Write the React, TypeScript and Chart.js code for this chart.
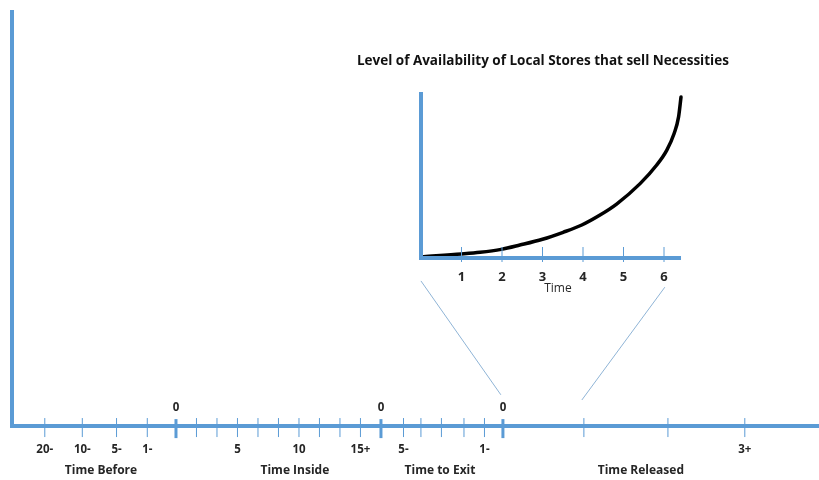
import React, { useEffect, useRef } from "react";
import { Chart, registerables } from "chart.js";
Chart.register(...registerables);

// ---------- Main timeline (abstract timeline units) ----------
const timelineMinorTicks = [-6.4, -4.57, -2.9, -1.4, 1, 2, 3, 4, 5, 6, 7, 8, 9, 11.1, 11.95, 12.95, 14.05, 15.05, 19.9, 24, 27.75];
const timelineMajorTicks = [0, 10, 15.95];
const belowLabelValues = [-6.4, -4.57, -2.9, -1.4, 3, 6, 9, 11.1, 15.05, 27.75];
const belowLabelTexts = ["20-", "10-", "5-", "1-", "5", "10", "15+", "5-", "1-", "3+"];
const zeroLabelValues = [0, 10, 15.95];
const zeroLabelTexts = ["0", "0", "0"];
const groupLabelValues = [-3.66, 5.8, 12.88, 22.68];
const groupLabelTexts = ["Time Before", "Time Inside", "Time to Exit", "Time Released"];
const connectorLeftX = [11.95, 15.85];
const connectorLeftY = [2.79, 0.6];
const connectorRightX = [23.85, 19.8];
const connectorRightY = [2.67, 0.5];

// ---------- Inset chart ----------
const insetTitle = "Level of Availability of Local Stores that sell Necessities";
const insetTicks = [1, 2, 3, 4, 5, 6];
const insetTickLabels = ["1", "2", "3", "4", "5", "6"];
const insetAxisTitle = "Time";
const curveX = [0.06, 1, 1.46, 1.98, 2.44, 3.0, 3.51, 3.97, 4.42, 4.83, 5.41, 5.82, 6.07, 6.25, 6.36, 6.42];
const curveY = [0.8, 2.4, 3.4, 5.2, 7.8, 11.3, 15.5, 19.9, 25.9, 32.5, 44.8, 56, 65, 75, 85, 97];

const BLUE = "#5b9bd5";
const LIGHT = "#8fb4d6";
const TEXT = "#262626";
const FONT = "'Open Sans', 'DejaVu Sans', sans-serif";

const pts = (xs: number[], ys: number[]) => xs.map((x, i) => ({ x, y: ys[i] }));

const mainTextPlugin = {
  id: "mainText",
  afterDatasetsDraw(chart: any) {
    const { ctx, scales } = chart;
    const x = scales.x;
    const y0 = scales.y.getPixelForValue(0);
    ctx.save();
    ctx.fillStyle = TEXT;
    ctx.textAlign = "center";
    ctx.textBaseline = "middle";
    ctx.font = `bold 11.5px ${FONT}`;
    belowLabelValues.forEach((v, i) => ctx.fillText(belowLabelTexts[i], x.getPixelForValue(v), y0 + 24));
    zeroLabelValues.forEach((v, i) => ctx.fillText(zeroLabelTexts[i], x.getPixelForValue(v), y0 - 18));
    ctx.font = `bold 12px ${FONT}`;
    groupLabelValues.forEach((v, i) => ctx.fillText(groupLabelTexts[i], x.getPixelForValue(v), y0 + 45));
    ctx.restore();
  },
};

const insetTextPlugin = {
  id: "insetText",
  afterDatasetsDraw(chart: any) {
    const { ctx, scales } = chart;
    const x = scales.x;
    const y0 = scales.y.getPixelForValue(0);
    const yTop = scales.y.getPixelForValue(100);
    ctx.save();
    ctx.fillStyle = TEXT;
    ctx.textAlign = "center";
    ctx.textBaseline = "middle";
    ctx.font = `bold 13px ${FONT}`;
    insetTicks.forEach((v, i) => ctx.fillText(insetTickLabels[i], x.getPixelForValue(v), y0 + 19));
    ctx.font = `12px ${FONT}`;
    ctx.fillText(insetAxisTitle, x.getPixelForValue(3.38), y0 + 31);
    ctx.font = `bold 13.5px ${FONT}`;
    ctx.fillStyle = "#111";
    ctx.fillText(insetTitle, x.getPixelForValue(3.01), yTop - 31);
    ctx.restore();
  },
};

const baseOptions = (xmin: number, xmax: number, ymin: number, ymax: number, padding: any) => ({
  responsive: false,
  animation: false as const,
  events: [] as any[],
  devicePixelRatio: 1,
  layout: { padding, autoPadding: false },
  plugins: { legend: { display: false }, tooltip: { enabled: false }, title: { display: false } },
  scales: {
    x: { type: "linear" as const, min: xmin, max: xmax, display: false },
    y: { type: "linear" as const, min: ymin, max: ymax, display: false },
  },
});

export default function App() {
  const mainRef = useRef<HTMLCanvasElement>(null);
  const insetRef = useRef<HTMLCanvasElement>(null);

  useEffect(() => {
    const main = new Chart(mainRef.current!, {
      type: "scatter",
      data: {
        datasets: [
          {
            data: [{ x: -8, y: 8 }, { x: -8, y: 0 }, { x: 31.37, y: 0 }],
            showLine: true,
            borderColor: BLUE,
            borderWidth: 4,
            borderJoinStyle: "miter",
            pointRadius: 0,
            clip: false,
          } as any,
          {
            data: timelineMinorTicks.map((x) => ({ x, y: -0.03 })),
            pointStyle: "line",
            rotation: 90,
            pointRadius: 9.5,
            borderColor: BLUE,
            backgroundColor: BLUE,
            pointBorderWidth: 1,
            borderWidth: 1,
            clip: false,
          } as any,
          {
            data: timelineMajorTicks.map((x) => ({ x, y: -0.05 })),
            pointStyle: "line",
            rotation: 90,
            pointRadius: 9.5,
            borderColor: BLUE,
            backgroundColor: BLUE,
            pointBorderWidth: 3,
            borderWidth: 3,
            clip: false,
          } as any,
          {
            data: pts(connectorLeftX, connectorLeftY),
            showLine: true,
            borderColor: LIGHT,
            borderWidth: 1,
            pointRadius: 0,
            clip: false,
          } as any,
          {
            data: pts(connectorRightX, connectorRightY),
            showLine: true,
            borderColor: LIGHT,
            borderWidth: 1,
            pointRadius: 0,
            clip: false,
          } as any,
        ],
      },
      options: baseOptions(-8, 31.37, -1, 8, { left: 12, right: 0, top: 10, bottom: 2 }) as any,
      plugins: [mainTextPlugin],
    });

    const inset = new Chart(insetRef.current!, {
      type: "scatter",
      data: {
        datasets: [
          {
            data: [{ x: 0, y: 100 }, { x: 0, y: 0 }, { x: 6.42, y: 0 }],
            showLine: true,
            borderColor: BLUE,
            borderWidth: 4,
            borderJoinStyle: "miter",
            pointRadius: 0,
            clip: false,
          } as any,
          {
            data: insetTicks.map((x) => ({ x, y: 2.1 })),
            pointStyle: "line",
            rotation: 90,
            pointRadius: 7.5,
            borderColor: BLUE,
            pointBorderWidth: 1,
            borderWidth: 1,
            clip: false,
          } as any,
          {
            data: pts(curveX, curveY),
            showLine: true,
            borderColor: "#000",
            borderWidth: 3.5,
            borderCapStyle: "round",
            borderJoinStyle: "round",
            cubicInterpolationMode: "monotone",
            pointRadius: 0,
            clip: false,
          } as any,
        ],
      },
      options: baseOptions(0, 6.5, 0, 100, { left: 421, right: 134.75, top: 92, bottom: 222 }) as any,
      plugins: [insetTextPlugin],
    });

    return () => {
      main.destroy();
      inset.destroy();
    };
  }, []);

  const cs: React.CSSProperties = { position: "absolute", left: 0, top: 0, width: 819, height: 480 };
  return (
    <div style={{ position: "absolute", left: 0, top: 0, width: 819, height: 480, background: "#fff" }}>
      <canvas ref={mainRef} width={819} height={480} style={cs} />
      <canvas ref={insetRef} width={819} height={480} style={cs} />
    </div>
  );
}
